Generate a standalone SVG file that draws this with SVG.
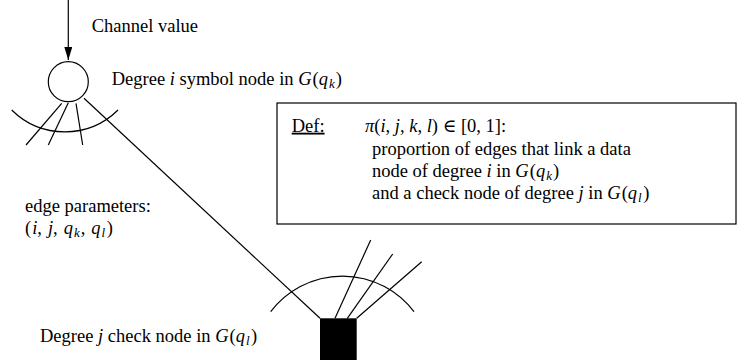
<svg xmlns="http://www.w3.org/2000/svg" width="737" height="360" viewBox="0 0 737 360">
<defs>
<style>
text{font-family:"Liberation Serif","DejaVu Serif",serif;font-size:18.5px;fill:#000}
.m{font-style:italic}
.s{font-size:13px}
.ln{stroke:#000;stroke-width:1.2;fill:none}
</style>
<marker id="ah" viewBox="0 0 13 8" refX="13" refY="4" markerWidth="13" markerHeight="8" markerUnits="userSpaceOnUse" orient="auto">
<path d="M0,0 L13,4 L0,8 Z" fill="#000"/>
</marker>
</defs>
<rect width="737" height="360" fill="#fff"/>
<g id="connectors">
<line class="ln" x1="68.3" y1="0" x2="68.3" y2="60" marker-end="url(#ah)"/>
<line class="ln" x1="84" y1="98.3" x2="320" y2="318.3"/>
</g>
<g id="symbol-node">
<circle class="ln" cx="68.3" cy="81.7" r="20"/>
<line class="ln" x1="61.7" y1="103.3" x2="26" y2="145"/>
<line class="ln" x1="68.3" y1="102.7" x2="48.3" y2="145"/>
<line class="ln" x1="76" y1="103.3" x2="82.7" y2="145"/>
<path class="ln" d="M11.7,110 A75.6,75.6 0 0 0 118,110"/>
</g>
<g id="check-node">
<rect x="320" y="318.3" width="36.7" height="45" fill="#000"/>
<line class="ln" x1="335" y1="318.3" x2="370.7" y2="240"/>
<line class="ln" x1="347.3" y1="318.3" x2="392.7" y2="254"/>
<line class="ln" x1="356.7" y1="318.3" x2="421.7" y2="261.7"/>
<path class="ln" d="M270.7,311.7 A89.8,89.8 0 0 1 414,311.7"/>
</g>
<g id="labels">
<text x="91.7" y="31.7">Channel value</text>
<text x="111.7" y="85">Degree <tspan class="m">i</tspan> symbol node in <tspan class="m">G</tspan><tspan dx="1">(</tspan><tspan class="m">q</tspan><tspan class="m s" dx="1" dy="3">k</tspan><tspan dx="1" dy="-3">)</tspan></text>
<text x="25" y="211.7">edge parameters:</text>
<text x="25" y="233.5">(<tspan class="m" dx="1">i</tspan>,<tspan class="m" dx="6">j</tspan>,<tspan class="m" dx="6">q</tspan><tspan class="m s" dx="1" dy="3">k</tspan><tspan dx="1" dy="-3">,</tspan><tspan class="m" dx="6">q</tspan><tspan class="m s" dx="1" dy="3">l</tspan><tspan dx="1.5" dy="-3">)</tspan></text>
<text x="40" y="342">Degree <tspan class="m">j</tspan> check node in <tspan class="m">G</tspan><tspan dx="1">(</tspan><tspan class="m">q</tspan><tspan class="m s" dx="1" dy="3">l</tspan><tspan dx="1.5" dy="-3">)</tspan></text>
</g>
<g id="definition-box">
<rect class="ln" x="277" y="103" width="459" height="121"/>
<text x="291.7" y="131.7" text-decoration="underline">Def:</text>
<text x="365" y="131.7"><tspan class="m">π</tspan>(<tspan class="m">i</tspan>, <tspan class="m">j</tspan>, <tspan class="m">k</tspan>, <tspan class="m">l</tspan>) ∈ [0, 1]:</text>
<text x="372" y="155">proportion of edges that link a data</text>
<text x="372" y="177">node of degree <tspan class="m">i</tspan> in <tspan class="m">G</tspan><tspan dx="1">(</tspan><tspan class="m">q</tspan><tspan class="m s" dx="1" dy="3">k</tspan><tspan dx="1" dy="-3">)</tspan></text>
<text x="372" y="199">and a check node of degree <tspan class="m">j</tspan> in <tspan class="m">G</tspan><tspan dx="1">(</tspan><tspan class="m">q</tspan><tspan class="m s" dx="1" dy="3">l</tspan><tspan dx="1.5" dy="-3">)</tspan></text>
</g>
</svg>
